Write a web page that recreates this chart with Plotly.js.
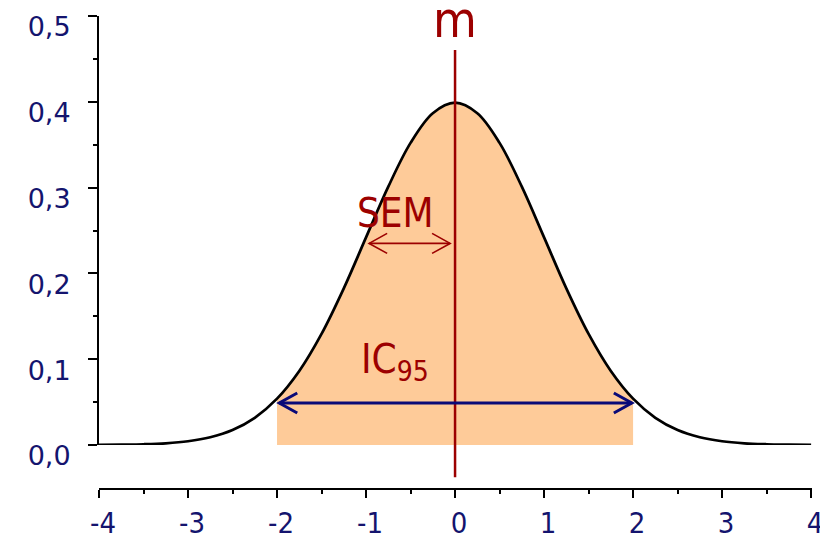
<!DOCTYPE html>
<html>
<head>
<meta charset="utf-8">
<script src="https://cdn.plot.ly/plotly-3.0.1.min.js"></script>
<style>
  html, body { margin: 0; padding: 0; background: #fff; }
  #plot { width: 820px; height: 534px; }
</style>
</head>
<body>
<div id="plot"></div>
<script>
// density curve
var curveX = [-4, -3.75, -3.5, -3.25, -3, -2.75, -2.5, -2.25, -2, -1.75, -1.5, -1.25, -1, -0.75, -0.5, -0.25,
  0, 0.25, 0.5, 0.75, 1, 1.25, 1.5, 1.75, 2, 2.25, 2.5, 2.75, 3, 3.25, 3.5, 3.75, 4];
var curveY = [0.0001, 0.0004, 0.0009, 0.002, 0.0044, 0.0091, 0.0175, 0.0317, 0.054, 0.0863, 0.1295, 0.1826,
  0.242, 0.3011, 0.3521, 0.3867, 0.399, 0.3867, 0.3521, 0.3011, 0.242, 0.1826, 0.1295, 0.0863, 0.054,
  0.0317, 0.0175, 0.0091, 0.0044, 0.002, 0.0009, 0.0004, 0.0001];

var mean = 0;
var ciLow = -2;
var ciHigh = 2;
// arrow ends as drawn
var semArrow = [-0.965, -0.056];
var semArrowY = 0.235;
var ciArrow = [-1.975, 1.986];
var ciArrowY = 0.049;

var xTickVals = [-4, -3, -2, -1, 0, 1, 2, 3, 4];
var xTickText = ['-4', '-3', '-2', '-1', '0', '1', '2', '3', '4'];
var yTickVals = [0, 0.1, 0.2, 0.3, 0.4, 0.5];
var yTickText = ['0,0', '0,1', '0,2', '0,3', '0,4', '0,5'];

var red = '#9c0000';
var navy = '#14146e';
var narrow = '"Liberation Sans Narrow", "DejaVu Sans Condensed", "Arial Narrow", sans-serif';

var fillX = [];
var fillY = [];
for (var i = 0; i < curveX.length; i++) {
  if (curveX[i] >= ciLow && curveX[i] <= ciHigh) {
    fillX.push(curveX[i]);
    fillY.push(curveY[i]);
  }
}

var area = {
  x: fillX,
  y: fillY,
  mode: 'lines',
  fill: 'tozeroy',
  fillcolor: '#fecb99',
  line: { width: 0, shape: 'spline' },
  hoverinfo: 'skip',
};

var curve = {
  x: curveX,
  y: curveY,
  mode: 'lines',
  line: { color: '#000', width: 2.7, shape: 'spline' },
};

// double arrow: a line plus a chevron at each end (chevron size in pixels)
function doubleArrow(ends, y, color, width, len, half) {
  var head = 'M' + len + ',' + half + ' L0,0 L' + len + ',' + (-half);
  var tail = 'M' + (-len) + ',' + half + ' L0,0 L' + (-len) + ',' + (-half);
  return [
    { type: 'line', xref: 'x', yref: 'y', x0: ends[0], x1: ends[1], y0: y, y1: y,
      line: { color: color, width: width } },
    { type: 'path', xref: 'x', yref: 'y', xsizemode: 'pixel', ysizemode: 'pixel',
      xanchor: ends[0], yanchor: y, path: head, line: { color: color, width: width } },
    { type: 'path', xref: 'x', yref: 'y', xsizemode: 'pixel', ysizemode: 'pixel',
      xanchor: ends[1], yanchor: y, path: tail, line: { color: color, width: width } },
  ];
}

var shapes = [
  { type: 'line', xref: 'x', yref: 'paper', x0: mean, x1: mean, y0: 0.025, y1: 0.928,
    line: { color: red, width: 2.5 } },
];
shapes = shapes.concat(doubleArrow(semArrow, semArrowY, red, 1.7, 18, 10));
shapes = shapes.concat(doubleArrow(ciArrow, ciArrowY, '#0a0a78', 3, 18, 10));

var layout = {
  width: 820,
  height: 534,
  margin: { l: 99, r: 8, t: 16, b: 45 },
  paper_bgcolor: '#fff',
  plot_bgcolor: '#fff',
  showlegend: false,
  xaxis: {
    range: [-4, 4.01],
    anchor: 'free',
    position: 0,
    showgrid: false,
    zeroline: false,
    showline: true,
    linecolor: '#000',
    linewidth: 2,
    ticks: 'outside',
    ticklen: 8,
    tickwidth: 2,
    tickcolor: '#000',
    tickvals: xTickVals,
    ticktext: xTickText,
    ticklabeloverflow: 'allow',
    ticklabelshift: 4,
    tickfont: { family: narrow, size: 29, color: navy },
    minor: { tickvals: [-3.5, -2.5, -1.5, -0.5, 0.5, 1.5, 2.5, 3.5], ticks: 'outside', ticklen: 4, tickwidth: 2, tickcolor: '#000' },
  },
  yaxis: {
    range: [0, 0.5],
    domain: [0.093, 1],
    showgrid: false,
    zeroline: false,
    showline: true,
    linecolor: '#000',
    linewidth: 2,
    ticks: 'outside',
    ticklen: 9,
    tickwidth: 2,
    tickcolor: '#000',
    tickvals: yTickVals,
    ticktext: yTickText,
    ticklabelstandoff: 12,
    ticklabelshift: 11,
    ticklabeloverflow: 'allow',
    tickfont: { family: '"DejaVu Sans", sans-serif', size: 27, color: navy },
    minor: { tickvals: [0.05, 0.15, 0.25, 0.35, 0.45], ticks: 'outside', ticklen: 4, tickwidth: 2, tickcolor: '#000' },
  },
  shapes: shapes,
  annotations: [
    { xref: 'x', yref: 'paper', x: mean, y: 1, yshift: -4, yanchor: 'middle', text: 'm', showarrow: false,
      font: { family: narrow, size: 50, color: red } },
    { xref: 'x', yref: 'y', x: -0.67, y: 0.27, text: 'SEM', showarrow: false,
      font: { family: narrow, size: 40, color: red } },
    { xref: 'x', yref: 'y', x: -0.68, y: 0.097, text: 'IC<sub>95</sub>', showarrow: false,
      font: { family: narrow, size: 40, color: red } },
  ],
};

Plotly.newPlot('plot', [area, curve], layout, { displayModeBar: false, staticPlot: true });
</script>
</body>
</html>
